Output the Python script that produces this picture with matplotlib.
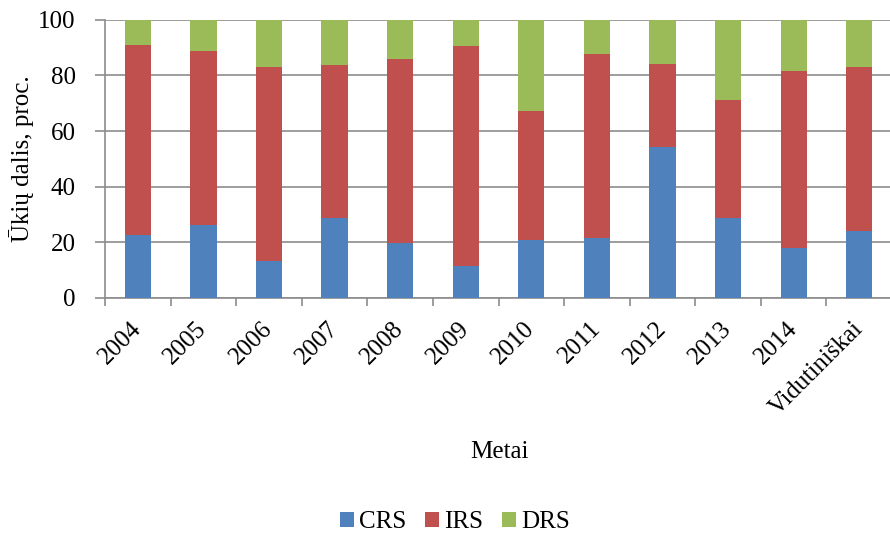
import numpy as np
import matplotlib.pyplot as plt

plt.rcParams['font.family'] = ['Liberation Serif', 'DejaVu Serif']

years = ['2004', '2005', '2006', '2007', '2008', '2009', '2010', '2011',
         '2012', '2013', '2014', 'Vidutiniškai']
crs = [22.4, 26.3, 13.0, 28.8, 19.7, 11.2, 20.6, 21.3, 54.4, 28.8, 18.0, 24.0]
irs_top = [90.9, 88.9, 83.2, 83.8, 85.9, 90.5, 67.1, 87.7, 84.1, 71.0, 81.7, 83.2]
crs = np.array(crs)
irs = np.array(irs_top) - crs
drs = 100 - crs - irs

fig = plt.figure(figsize=(8.9, 5.33), dpi=100)
# plot area runs slightly past the right edge of the image, as in the source
ax = fig.add_axes([0.118, 0.4418, 0.8843, 0.5207])

x = np.arange(len(years))
w = 0.4
ax.bar(x, crs, w, color='#4f81bd', label='CRS', zorder=3)
ax.bar(x, irs, w, bottom=crs, color='#c0504d', label='IRS', zorder=3)
ax.bar(x, drs, w, bottom=crs + irs, color='#9bbb59', label='DRS', zorder=3)

ax.set_xlim(-0.5, len(years) - 0.5)
ax.set_ylim(0, 100)
ax.set_yticks([0, 20, 40, 60, 80, 100])
ax.yaxis.grid(True, color='#8c8c8c', linewidth=1.2, zorder=0)
ax.set_axisbelow(True)

# category boundary ticks
ax.set_xticks(np.arange(-0.5, len(years)), minor=False)
ax.set_xticklabels([])
ax.set_xticks(x, minor=True)
ax.set_xticklabels(years, minor=True, rotation=45, ha='right', va='center',
                   rotation_mode='anchor', fontsize=18)
ax.tick_params(axis='x', which='minor', length=0, pad=20)
ax.tick_params(axis='x', which='major', length=6, color='#8c8c8c', width=1.2)
ax.tick_params(axis='y', length=7, color='#8c8c8c', width=1.2, labelsize=18, pad=14)

for s in ['top', 'right']:
    ax.spines[s].set_visible(False)
for s in ['left', 'bottom']:
    ax.spines[s].set_color('#8c8c8c')
    ax.spines[s].set_linewidth(1.2)

ax.set_ylabel('Ūkių dalis, proc.', fontsize=18, labelpad=3)
fig.text(0.561, 0.152, 'Metai', ha='center', va='center', fontsize=18)

fig.legend(loc='center', bbox_to_anchor=(0.511, 0.0206), ncol=3, frameon=False,
           fontsize=18, handlelength=0.56, handleheight=0.56,
           handletextpad=0.2, columnspacing=0.76, borderpad=0)

fig.savefig('out.png', dpi=100)
